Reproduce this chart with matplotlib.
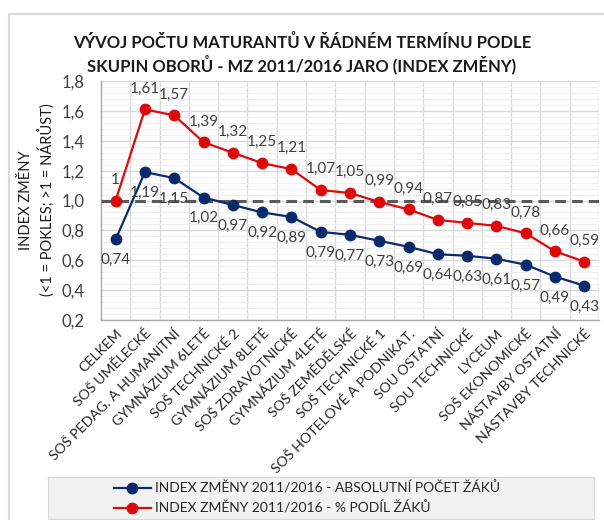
import matplotlib
matplotlib.use("Agg")
import matplotlib.pyplot as plt
from matplotlib.patches import Rectangle
from matplotlib.ticker import MultipleLocator, FixedLocator
from matplotlib.transforms import ScaledTranslation

plt.rcParams['font.family'] = ['Lato', 'DejaVu Sans']

categories = ["CELKEM", "SOŠ UMĚLECKÉ", "SOŠ PEDAG. A HUMANITNÍ", "GYMNÁZIUM 6LETÉ",
              "SOŠ TECHNICKÉ 2", "GYMNÁZIUM 8LETÉ", "SOŠ ZDRAVOTNICKÉ", "GYMNÁZIUM 4LETÉ",
              "SOŠ ZEMĚDĚLSKÉ", "SOŠ TECHNICKÉ 1", "SOŠ HOTELOVÉ A PODNIKAT.", "SOU OSTATNÍ",
              "SOU TECHNICKÉ", "LYCEUM", "SOŠ EKONOMICKÉ", "NÁSTAVBY OSTATNÍ", "NÁSTAVBY TECHNICKÉ"]
absolutni = [0.74, 1.19, 1.15, 1.02, 0.97, 0.92, 0.89, 0.79, 0.77, 0.73, 0.69, 0.64, 0.63, 0.61, 0.57, 0.49, 0.43]
podil = [1, 1.61, 1.57, 1.39, 1.32, 1.25, 1.21, 1.07, 1.05, 0.99, 0.94, 0.87, 0.85, 0.83, 0.78, 0.66, 0.59]
label_abs = "INDEX ZMĚNY 2011/2016 - ABSOLUTNÍ POČET ŽÁKŮ"
label_pod = "INDEX ZMĚNY 2011/2016 - % PODÍL ŽÁKŮ"
title = "VÝVOJ POČTU MATURANTŮ V ŘÁDNÉM TERMÍNU PODLE\nSKUPIN OBORŮ - MZ 2011/2016 JARO (INDEX ZMĚNY)"
ylabel = "INDEX ZMĚNY\n(<1 = POKLES; >1 = NÁRŮST)"

W, H = 604, 520
fig = plt.figure(figsize=(W/100, H/100), dpi=100)
fig.patches.append(Rectangle((9/W, -0.1), 1.2, (H-14)/H + 0.1, transform=fig.transFigure,
                             facecolor='none', edgecolor='#d9d9d9', linewidth=1.5, zorder=-5))
# legend background box
fig.patches.append(Rectangle((48/W, 1-519/H), 546/W, 42/H, transform=fig.transFigure,
                             facecolor='#f2f2f2', edgecolor='#d9d9d9', linewidth=1, zorder=-4))

ax = fig.add_axes([101/W, 1-320/H, 498/W, 239/H])
x = list(range(len(categories)))
blue = '#0B2A6B'
red = '#DD0A0A'
ax.plot(x, absolutni, color=blue, lw=1.6, marker='o', ms=7.5, label=label_abs, zorder=4)
ax.plot(x, podil, color=red, lw=1.6, marker='o', ms=7.5, label=label_pod, zorder=4)
ax.axhline(1.0, color='#595959', lw=2.2, ls=(0, (3.5, 2)), zorder=3)

fmt = lambda v: ('%g' % v).replace('.', ',')
for i in x:
    ax.annotate(fmt(podil[i]), (i, podil[i]), xytext=(0, 15), textcoords='offset points',
                ha='center', va='center', fontsize=11, color='#404040', zorder=5)
    ax.annotate(fmt(absolutni[i]), (i, absolutni[i]), xytext=(0, -15), textcoords='offset points',
                ha='center', va='center', fontsize=11, color='#404040', zorder=5)

ax.set_xlim(-0.5, len(categories)-0.5)
ax.set_ylim(0.2, 1.8)
ax.yaxis.set_minor_locator(MultipleLocator(0.04))
ax.set_yticks([0.2 + 0.2*k for k in range(9)])
ax.set_yticklabels([('%.1f' % (0.2 + 0.2*k)).replace('.', ',') for k in range(9)])
ax.xaxis.set_major_locator(FixedLocator(x))
ax.xaxis.set_minor_locator(FixedLocator([i + 0.5 for i in x]))
ax.set_xticklabels(categories, rotation=45, ha='right', va='top', rotation_mode='anchor',
                   fontsize=10.2, color='#262626')
shift = ScaledTranslation(5/100, 0, fig.dpi_scale_trans)
for lbl in ax.get_xticklabels():
    lbl.set_transform(lbl.get_transform() + shift)
ax.tick_params(axis='x', which='both', length=0, pad=5)
ax.tick_params(axis='y', which='both', length=0, pad=12, labelsize=12, labelcolor='#404040')
ax.grid(which='major', axis='y', color='#d9d9d9', lw=1)
ax.grid(which='minor', axis='y', color='#efefef', lw=0.8)
ax.grid(which='minor', axis='x', color='#d9d9d9', lw=1)
ax.set_axisbelow(True)
for s in ['top', 'right']:
    ax.spines[s].set_visible(False)
for s in ['left', 'bottom']:
    ax.spines[s].set_color('#a6a6a6')
    ax.spines[s].set_linewidth(1)

fig.text(302/W, 1-54/H, title, ha='center', va='center', fontsize=12, fontweight='bold',
         color='#1a1a1a', linespacing=1.25)
fig.text(37/W, 1-200/H, ylabel, ha='center', va='center', rotation=90, fontsize=10.5,
         color='#1a1a1a', linespacing=1.4)

leg = fig.legend(loc='center', bbox_to_anchor=(307/W, 1-498/H), ncol=1, frameon=False,
                 fontsize=10, handlelength=2.7, borderpad=0.2, labelspacing=0.45,
                 handletextpad=0.3, alignment='left')
for t in leg.get_texts():
    t.set_color('#262626')

fig.savefig('out.png', dpi=100)
